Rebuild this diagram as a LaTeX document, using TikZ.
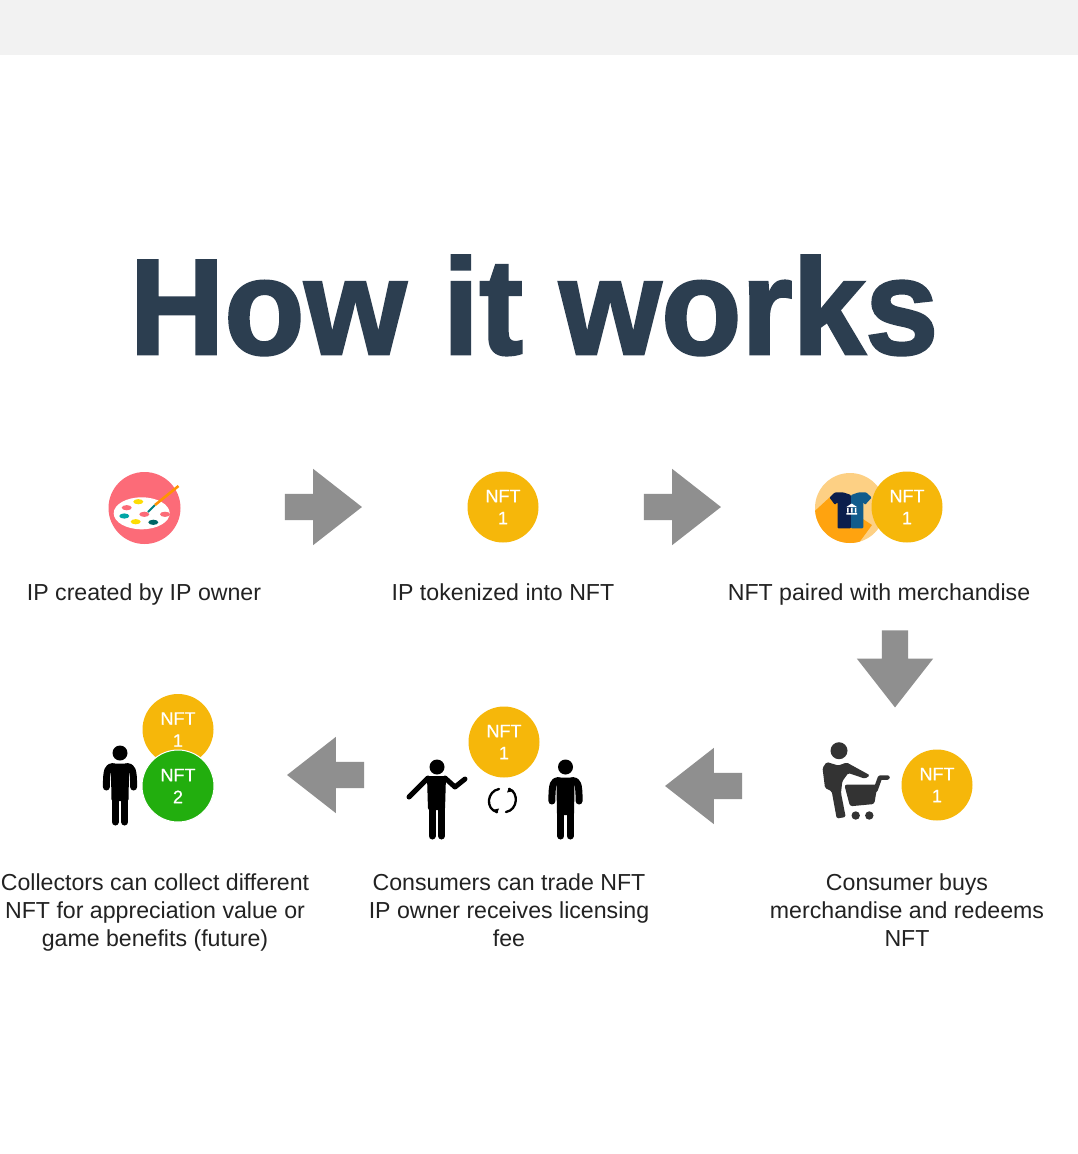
\documentclass[tikz,border=0pt]{standalone}
\usepackage{fontspec}
\setmainfont{Liberation Sans}
\newfontfamily\titlefont{Liberation Sans}[BoldFeatures={FakeBold=2}]
\newfontfamily\nftfont{Liberation Sans}[FakeBold=0.6]
\usetikzlibrary{shapes.arrows}
\definecolor{navytitle}{HTML}{2C3E50}
\definecolor{arrowgrey}{HTML}{8F8F8F}
\definecolor{nftgold}{HTML}{F6B70A}
\definecolor{nftgreen}{HTML}{22AE0E}
\definecolor{palettered}{HTML}{FC6B78}
\definecolor{shirtback}{HTML}{FDD084}
\definecolor{shirtshadow}{HTML}{FFA30F}
\definecolor{shirtdark}{HTML}{0B1E4D}
\definecolor{shirtblue}{HTML}{115C8C}
\definecolor{iconink}{HTML}{333333}
\definecolor{labelink}{HTML}{222222}
\tikzset{
  x=1pt,y=-1pt,
  flowarrow/.style={single arrow,fill=arrowgrey,draw=none,inner sep=13pt,outer sep=0pt,
    minimum height=77pt,single arrow head extend=25pt,single arrow tip angle=76,
    single arrow head indent=0pt},
  nft/.style={circle,minimum size=71pt,inner sep=0pt,text=white,align=center,
    font=\fontsize{18}{22}\nftfont,fill=nftgold},
  caption/.style={text=labelink,align=center,inner sep=0pt,font=\fontsize{23.15}{28}\selectfont},
  blob/.style={x radius=5,y radius=2.6},
  limb/.style={line width=7pt,line cap=round,line join=round,draw=black},
  pics/person/.style={code={
    \fill[black] (0,0) circle[radius=7.5];
    \fill[black,rounded corners=2pt] (-9,10.5) -- (9,10.5) -- (8.6,48) -- (-8.6,48) -- cycle;
    \draw[limb] (-4.7,44) -- (-4.7,69);
    \draw[limb] (4.7,44) -- (4.7,69);
    \draw[limb] (-7,13.5) .. controls (-12,14) and (-13.6,16) .. (-13.6,34);
    \draw[limb] (7,13.5) .. controls (12,14) and (13.6,16) .. (13.6,34);
  }},
}
\begin{document}
\begin{tikzpicture}
\useasboundingbox (0,0) rectangle (1078,1154);
\fill[white] (0,0) rectangle (1078,1154);
\fill[black!5] (0,0) rectangle (1078,55);

\node[anchor=base,text=navytitle,inner sep=0pt,xscale=.95,yscale=.985,transform shape,
  font=\fontsize{138}{138}\titlefont\bfseries] (title) at (534,354) {How it works};

% palette
\node[circle,fill=palettered,minimum size=72pt,inner sep=0pt] (ip) at (144.5,508) {};
\fill[white] (141.7,513.3) ellipse[x radius=28,y radius=16];
\fill[yellow!80!orange] (138.3,501.7) ellipse[blob];
\fill[palettered] (126.7,507.7) ellipse[blob];
\fill[teal!70!cyan] (124.3,516) ellipse[blob];
\fill[yellow!80!orange] (135.7,521.7) ellipse[blob];
\fill[palettered] (144.3,514.3) ellipse[blob];
\fill[teal!80!black] (153.3,522.3) ellipse[blob];
\fill[palettered] (165,514.3) ellipse[blob];
\draw[teal,line width=2pt] (148,512) -- (155,505);
\draw[orange!85!yellow,line width=2.6pt] (155,505) -- (178.5,486);

% token
\node[nft] (token) at (503,507) {NFT\\1};

% shirt and token
\node[circle,fill=shirtback,minimum size=70pt,inner sep=0pt] (shirt) at (850,508) {};
\begin{scope}
  \clip (850,508) circle[radius=35];
  \fill[shirtshadow] (830,497) -- (805,520) -- (850,555) -- (872,525) -- cycle;
\end{scope}
\fill[shirtdark,rounded corners=1pt] (829.5,497.5) -- (835,492.3) -- (843,492.3) -- (851,495) -- (851,528.3) -- (837.5,528.3) -- (837.5,502) -- (835,505) -- cycle;
\fill[shirtblue,rounded corners=1pt] (851,495) -- (859,492.3) -- (866,492.3) -- (871.7,497.5) -- (865,505) -- (863.3,502) -- (863.3,528.3) -- (851,528.3) -- cycle;
\fill[white] (851.7,503.5) -- (857,507) -- (846.4,507) -- cycle;
\fill[white] (847,507.8) rectangle (848.6,512.5) (850.9,507.8) rectangle (852.5,512.5) (854.8,507.8) rectangle (856.4,512.5) (846.4,513) rectangle (857,514.5);
\node[nft] (paired) at (907,507) {NFT\\1};

% shopper
\fill[iconink] (839,750.7) circle[radius=8.5];
\fill[iconink,rounded corners=1.5pt] (822.5,768) -- (826.7,762) -- (838.3,765.5) -- (846.7,762.5) -- (870,775.3) -- (865,778.7) -- (848.3,773) -- (842.3,781.3) -- (841,793) -- (845.7,817) -- (836.7,818.5) -- (831.7,791.3) -- (825,788) -- cycle;
\fill[iconink,rounded corners=2.5pt] (844.3,784.7) -- (877.5,784.7) -- (874.3,804) -- (850,806.3) -- cycle;
\draw[iconink,line width=4.5pt,line cap=round,line join=round] (875.5,790) -- (880,777.5) -- (887.5,777.5);
\fill[iconink] (855.7,815.5) circle[radius=4.2] (869.3,815.5) circle[radius=4.2];
\node[nft] (buyer) at (937,785) {NFT\\1};

% trade
\node[nft] (trade) at (504,742) {NFT\\1};
\fill[black] (437,767) circle[radius=7.5];
\fill[black,rounded corners=2pt] (427,776) -- (446,776) -- (445,810) -- (428,810) -- cycle;
\draw[line width=5pt,line cap=round,line join=round] (428,778) -- (409,797);
\draw[line width=5pt,line cap=round,line join=round] (445,778) -- (455,787) -- (465,779);
\draw[limb] (432.2,805) -- (432.2,836);
\draw[limb] (441.5,805) -- (441.5,836);
\draw[line width=2.3pt,line cap=round] (499,789) .. controls (487,791) and (485,809) .. (497,812);
\draw[line width=2.3pt,line cap=round] (506,812) .. controls (518,810) and (519,792) .. (509,789);
\fill[black] (497,813.5) -- (492,810) -- (499,808.5) -- cycle;
\fill[black] (509,787.5) -- (514,791) -- (507,792.5) -- cycle;
\pic at (565.5,767) {person};

% collector
\pic at (120,753) {person};
\node[nft] (first) at (178,729.5) {NFT\\1};
\node[nft,fill=nftgreen,draw=white,line width=1pt,minimum size=72pt] (second) at (178,786) {NFT\\2};

% block arrows
\node[flowarrow] (a1) at (315,507) {};
\node[flowarrow] (a2) at (674,507) {};
\node[flowarrow,rotate=-90] (a3) at (895,660.5) {};
\node[flowarrow,rotate=180] (a4) at (712,786) {};
\node[flowarrow,rotate=180] (a5) at (334,775) {};

% captions
\node[caption] (c1) at (144,594.6) {\strut IP created by IP owner};
\node[caption] (c2) at (503,594.6) {\strut IP tokenized into NFT};
\node[caption] (c3) at (879,594.6) {\strut NFT paired with merchandise};
\node[caption] (c4) at (907,912.6) {\strut Consumer buys\\merchandise and redeems\\\strut NFT};
\node[caption] (c5) at (509,912.6) {\strut Consumers can trade NFT\\IP owner receives licensing\\\strut fee};
\node[caption] (c6) at (155,912.6) {\strut Collectors can collect different\\NFT for appreciation value or\\\strut game benefits (future)};
\end{tikzpicture}
\end{document}
